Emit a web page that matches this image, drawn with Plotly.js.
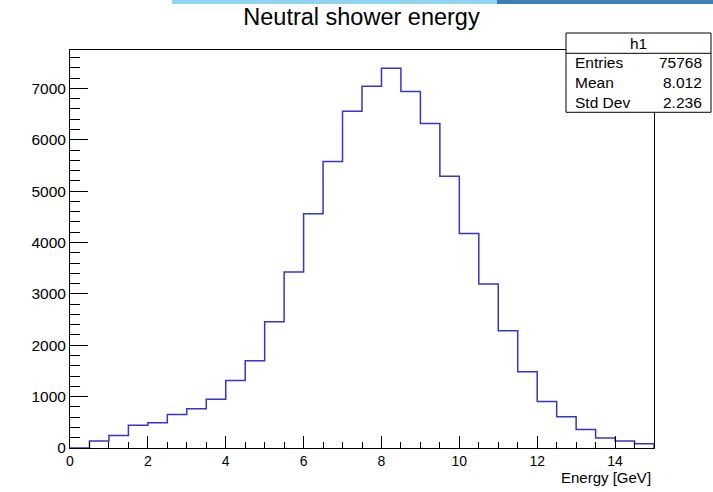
<!DOCTYPE html>
<html>
<head>
<meta charset="utf-8">
<script src="https://cdn.plot.ly/plotly-3.0.1.min.js"></script>
<style>
  html, body { margin: 0; padding: 0; background: #ffffff; }
  #chart { width: 713px; height: 492px; }
</style>
</head>
<body>
<div id="chart"></div>
<script>
// ---- data ----
const histName = "h1";
const chartTitle = "Neutral shower energy";
const xAxisLabel = "Energy [GeV]";
const xMin = 0;
const binWidth = 0.5;
const binCounts = [0, 137, 241, 444, 490, 653, 765, 947, 1313, 1698,
                   2460, 3424, 4558, 5576, 6556, 7043, 7393, 6938, 6315, 5292,
                   4175, 3191, 2282, 1484, 907, 609, 362, 195, 136, 84];
const statLabels = ["Entries", "Mean", "Std Dev"];
const statValues = ["75768", "8.012", "2.236"];

// ---- build step outline (ROOT-style histogram) ----
const nBins = binCounts.length;
const xMax = xMin + nBins * binWidth;
const stepX = [], stepY = [];
for (let i = 0; i < nBins; i++) {
  stepX.push(xMin + i * binWidth);
  stepY.push(binCounts[i]);
}
stepX.push(xMax);
stepY.push(binCounts[nBins - 1]);
stepX.push(xMax);
stepY.push(0);

const yTop = Math.max(...binCounts) * 1.048;

const FONT = "Liberation Sans, Arial, Helvetica, sans-serif";

const trace = {
  type: "scatter",
  mode: "lines",
  x: stepX,
  y: stepY,
  line: { shape: "hv", color: "#3535c8", width: 1.5 },
  hoverinfo: "skip",
  showlegend: false
};

// stats box geometry in paper coordinates
const bx0 = 0.8493, bx1 = 1.0976, by0 = 0.8435, by1 = 1.0427, bhead = 0.9917;
const rowY = [0.9681, 0.9178, 0.8676];

const annotations = [
  { text: xAxisLabel, xref: "paper", yref: "paper", x: 0.9988, y: -0.074,
    xanchor: "right", yanchor: "middle", showarrow: false,
    font: { family: FONT, size: 15, color: "#000" } },
  { text: histName, xref: "paper", yref: "paper", x: (bx0 + bx1) / 2, y: 1.0168,
    xanchor: "center", yanchor: "middle", showarrow: false,
    font: { family: FONT, size: 15.5, color: "#000" } }
];
for (let i = 0; i < statLabels.length; i++) {
  annotations.push({ text: statLabels[i], xref: "paper", yref: "paper", x: 0.8613, y: rowY[i],
    xanchor: "left", yanchor: "middle", showarrow: false,
    font: { family: FONT, size: 15.5, color: "#000" } });
  annotations.push({ text: statValues[i], xref: "paper", yref: "paper", x: 1.0856, y: rowY[i],
    xanchor: "right", yanchor: "middle", showarrow: false,
    font: { family: FONT, size: 15.5, color: "#000" } });
}

const shapes = [
  // screenshot strip at the very top
  { type: "rect", xref: "paper", yref: "paper", x0: 0.1747, x1: 0.7312, y0: 1.1156, y1: 1.13,
    line: { width: 0 }, fillcolor: "#8fd4f0", layer: "above" },
  { type: "rect", xref: "paper", yref: "paper", x0: 0.7312, x1: 1.11, y0: 1.1156, y1: 1.13,
    line: { width: 0 }, fillcolor: "#3c7fb6", layer: "above" },
  // stats box
  { type: "rect", xref: "paper", yref: "paper", x0: bx0, x1: bx1, y0: by0, y1: by1,
    line: { color: "#000", width: 1 }, fillcolor: "#ffffff", layer: "above" },
  { type: "line", xref: "paper", yref: "paper", x0: bx0, x1: bx1, y0: bhead, y1: bhead,
    line: { color: "#000", width: 1 }, layer: "above" }
];

const layout = {
  width: 713,
  height: 492,
  paper_bgcolor: "#ffffff",
  plot_bgcolor: "#ffffff",
  margin: { l: 70, r: 59, t: 50, b: 44, pad: 0 },
  title: {
    text: chartTitle,
    xref: "container", yref: "container",
    x: 0.507, xanchor: "center",
    y: 1 - 16.5 / 492, yanchor: "middle",
    font: { family: FONT, size: 23.5, color: "#000" }
  },
  xaxis: {
    range: [xMin, xMax],
    showgrid: false, zeroline: false,
    showline: true, linecolor: "#000", linewidth: 1, mirror: true,
    ticks: "inside", ticklen: 12, tickwidth: 1, tickcolor: "#000",
    dtick: 2, tick0: 0,
    minor: { ticks: "inside", dtick: 0.5, tick0: 0, ticklen: 6, tickwidth: 1, tickcolor: "#000", showgrid: false },
    tickfont: { family: FONT, size: 14, color: "#000" },
    fixedrange: true
  },
  yaxis: {
    range: [0, yTop],
    showgrid: false, zeroline: false,
    showline: true, linecolor: "#000", linewidth: 1, mirror: true,
    ticks: "inside", ticklen: 18, tickwidth: 1, tickcolor: "#000",
    dtick: 1000, tick0: 0,
    minor: { ticks: "inside", dtick: 200, tick0: 0, ticklen: 10, tickwidth: 1, tickcolor: "#000", showgrid: false },
    tickfont: { family: FONT, size: 15.5, color: "#000" },
    fixedrange: true
  },
  annotations: annotations,
  shapes: shapes,
  showlegend: false
};

Plotly.newPlot("chart", [trace], layout, { staticPlot: true, displayModeBar: false });
</script>
</body>
</html>
